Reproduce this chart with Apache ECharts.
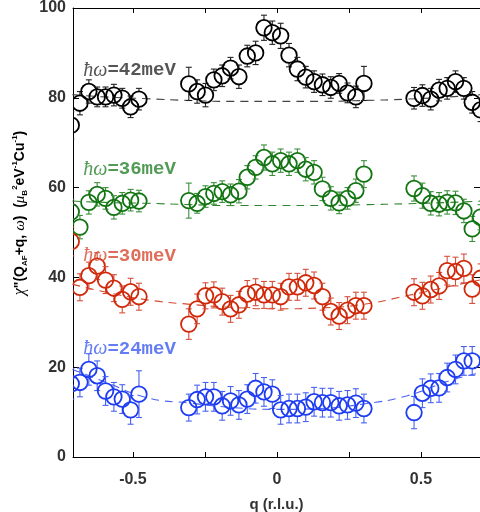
<!DOCTYPE html>
<html><head><meta charset="utf-8">
<script src="https://cdn.jsdelivr.net/npm/echarts@6/dist/echarts.min.js"></script>
<style>html,body{margin:0;padding:0;background:#fff}#c{width:480px;height:512px}</style>
</head><body><div id="c"></div>
<script>
// q positions (r.l.u.)
const q = [-0.714, -0.684, -0.653, -0.624, -0.595, -0.566, -0.537, -0.508, -0.479,
  -0.306, -0.277, -0.248, -0.219, -0.190, -0.161, -0.132, -0.103, -0.074, -0.045, -0.016,
  0.013, 0.042, 0.071, 0.100, 0.129, 0.158, 0.187, 0.216, 0.245, 0.274, 0.302,
  0.476, 0.505, 0.534, 0.563, 0.591, 0.620, 0.649, 0.678, 0.707];

const v42 = [73.9, 78.8, 81.4, 80.2, 80.2, 80.6, 79.9, 78.0, 79.7,
  83.1, 81.4, 80.6, 84.0, 84.9, 86.6, 84.7, 89.3, 90.0, 95.6, 94.5,
  93.8, 89.5, 86.4, 84.6, 83.6, 82.9, 82.3, 83.2, 81.1, 80.2, 83.2,
  79.9, 80.5, 79.7, 81.7, 82.1, 83.6, 82.1, 79.0, 77.3];
const e42 = [3.0, 2.6, 2.6, 2.2, 2.2, 2.4, 2.2, 2.4, 2.4,
  3.7, 2.6, 2.6, 2.4, 2.4, 2.4, 2.6, 2.4, 2.6, 2.8, 2.6,
  2.8, 2.6, 2.6, 2.4, 2.4, 2.4, 2.4, 2.2, 2.2, 2.4, 3.8,
  2.4, 2.4, 2.4, 2.4, 2.4, 2.4, 2.4, 2.4, 2.6];

const v36 = [54.6, 51.2, 56.7, 58.5, 57.6, 55.6, 56.5, 57.2, 57.0,
  57.1, 56.5, 58.0, 58.7, 59.1, 58.4, 59.2, 62.3, 64.5, 66.7, 65.3,
  66.0, 65.3, 66.0, 64.1, 63.4, 59.7, 57.6, 56.6, 57.6, 59.3, 63.0,
  59.8, 58.2, 56.5, 56.3, 56.7, 56.6, 54.8, 50.8, 53.4];
const e36 = [2.8, 2.6, 2.6, 2.6, 2.4, 2.6, 2.4, 2.4, 2.4,
  3.9, 2.2, 2.4, 2.4, 2.4, 2.4, 2.6, 2.6, 2.6, 2.8, 2.6,
  2.6, 2.6, 2.6, 2.6, 2.6, 2.6, 2.6, 2.4, 2.4, 2.6, 3.0,
  2.8, 2.8, 2.6, 2.6, 2.6, 2.6, 2.6, 2.8, 2.8];

const v30 = [48.0, 37.8, 40.4, 42.5, 39.4, 37.6, 35.1, 36.8, 35.7,
  29.6, 33.0, 35.9, 36.1, 34.6, 33.0, 33.9, 36.3, 36.7, 36.1, 36.1,
  35.7, 37.9, 37.9, 38.8, 38.2, 35.7, 32.4, 31.4, 32.7, 33.7, 33.7,
  36.7, 35.9, 37.3, 38.1, 41.5, 41.3, 42.0, 37.4, 39.8];
const e30 = [3.2, 3.0, 3.0, 3.0, 3.0, 3.0, 3.0, 3.0, 3.0,
  3.4, 3.3, 2.9, 2.9, 3.0, 3.0, 3.0, 3.0, 3.0, 3.0, 3.0,
  3.0, 3.0, 3.0, 3.0, 3.0, 3.0, 3.0, 3.0, 3.0, 3.0, 3.0,
  3.0, 3.0, 3.0, 3.0, 3.2, 3.2, 3.2, 3.2, 3.2];

const v24 = [16.3, 16.6, 19.5, 18.1, 14.7, 13.4, 12.9, 10.5, 14.0,
  11.0, 12.8, 13.4, 13.4, 11.4, 12.5, 11.6, 12.9, 15.3, 14.5, 14.0,
  10.5, 10.8, 10.8, 11.1, 12.3, 12.1, 12.1, 11.4, 11.6, 12.0, 10.8,
  9.9, 14.2, 15.3, 15.4, 17.7, 19.5, 21.4, 21.4, null];
const e24 = [3.4, 3.2, 3.5, 3.3, 3.2, 3.2, 3.2, 3.2, 5.2,
  3.0, 3.2, 3.2, 3.2, 3.2, 3.2, 3.2, 3.2, 3.3, 3.2, 3.2,
  3.2, 3.2, 3.2, 3.2, 3.2, 3.2, 3.2, 3.2, 3.2, 3.2, 3.2,
  3.6, 3.2, 3.2, 3.2, 3.2, 3.2, 3.2, 3.2, 3.2];

// background fits (dashed)
const qFit = [-0.71, -0.6, -0.45, -0.3, -0.15, 0, 0.15, 0.3, 0.45, 0.6, 0.71];
const fit42 = [80.7, 80.2, 79.8, 79.4, 79.2, 79.2, 79.2, 79.4, 79.7, 80.2, 80.7];
const fit36 = [57.0, 56.7, 56.5, 56.2, 56.0, 56.0, 56.0, 56.2, 56.4, 56.7, 57.0];
const fit30 = [38.5, 36.8, 35.0, 34.0, 33.3, 33.0, 33.2, 34.0, 35.9, 38.0, 39.5];
const fit24 = [19.5, 16.8, 13.2, 12.0, 11.0, 10.6, 10.8, 11.8, 13.6, 17.0, 18.8];

const labels = ['=42meV', '=36meV', '=30meV', '=24meV'];
const labelPos = [[-0.674, 86.1], [-0.674, 64.0], [-0.674, 44.8], [-0.674, 24.1]];

const xTicks = [-0.5, -0.25, 0, 0.25, 0.5];
const xLabels = [-0.5, 0, 0.5];

const sets = [
  {v: v42, e: e42, fit: fit42, color: '#000000', bar: '#222222', dash: '#444444', text: '#2a2a2a'},
  {v: v36, e: e36, fit: fit36, color: '#127512', bar: '#3d8f3d', dash: '#2f852f', text: '#27822a'},
  {v: v30, e: e30, fit: fit30, color: '#d0290a', bar: '#d5503c', dash: '#d24a30', text: '#d64a30'},
  {v: v24, e: e24, fit: fit24, color: '#1e3cf2', bar: '#4862f2', dash: '#4862f2', text: '#3d5cf0'}
];

const R = 7.8;
function makeRender(color, barColor) {
  return function (params, api) {
    const x = api.value(0), y = api.value(1), e = api.value(2);
    const c = api.coord([x, y]);
    const t = api.coord([x, y + e]);
    const b = api.coord([x, y - e]);
    const cw = 3;
    const bs = {stroke: barColor, lineWidth: 1.1};
    const ch = [];
    if (t[1] < c[1] - R) ch.push({type: 'line', shape: {x1: c[0], y1: t[1], x2: c[0], y2: c[1] - R}, style: bs});
    if (b[1] > c[1] + R) ch.push({type: 'line', shape: {x1: c[0], y1: c[1] + R, x2: c[0], y2: b[1]}, style: bs});
    ch.push({type: 'line', shape: {x1: c[0] - cw, y1: t[1], x2: c[0] + cw, y2: t[1]}, style: bs});
    ch.push({type: 'line', shape: {x1: c[0] - cw, y1: b[1], x2: c[0] + cw, y2: b[1]}, style: bs});
    ch.push({type: 'circle', shape: {cx: c[0], cy: c[1], r: R}, style: {fill: 'none', stroke: color, lineWidth: 1.8}});
    return {type: 'group', children: ch};
  };
}

const series = [];
sets.forEach((s, k) => {
  series.push({
    type: 'line', smooth: true, symbol: 'none', silent: true, z: 1,
    data: qFit.map((x, i) => [x, s.fit[i]]),
    lineStyle: {color: s.dash, width: 1.1, type: [8, 6]}
  });
  series.push({
    type: 'custom', clip: true, z: 3,
    renderItem: makeRender(s.color, s.bar),
    encode: {x: 0, y: 1},
    data: q.map((x, i) => [x, s.v[i], s.e[i]]).filter(d => d[1] !== null)
  });
  series.push({
    type: 'scatter', symbolSize: 1, silent: true, z: 4,
    itemStyle: {color: 'rgba(0,0,0,0)'},
    data: [labelPos[k]],
    label: {
      show: true, position: 'right', distance: 0,
      formatter: '{h|ħω}{m|' + labels[k] + '}',
      rich: {
        h: {fontFamily: 'Liberation Serif', fontStyle: 'italic', fontSize: 20, color: s.text},
        m: {fontFamily: 'Liberation Mono', fontWeight: 'bold', fontSize: 19, color: s.text}
      }
    }
  });
});

const axisFont = {fontFamily: 'Liberation Sans', fontWeight: 'bold', fontSize: 16, color: '#333333'};
const chart = echarts.init(document.getElementById('c'));
chart.setOption({
  animation: false,
  backgroundColor: '#ffffff',
  grid: {left: 73, right: 0, top: 8, bottom: 55, containLabel: false, outerBoundsMode: 'none'},
  xAxis: [{
    type: 'value', min: -0.708, max: 0.705, position: 'bottom',
    axisLine: {show: true, onZero: false, lineStyle: {color: '#000', width: 1}},
    axisTick: {show: true, inside: true, length: 5, customValues: xTicks, lineStyle: {color: '#000'}},
    axisLabel: Object.assign({customValues: xLabels, margin: 15, formatter: v => v === 0 ? '0' : String(v)}, axisFont),
    splitLine: {show: false},
    name: 'q (r.l.u.)', nameLocation: 'middle', nameGap: 40,
    nameTextStyle: {fontFamily: 'Liberation Sans', fontWeight: 'bold', fontSize: 15, color: '#333333'}
  }, {
    type: 'value', min: -0.708, max: 0.705, position: 'top',
    axisLine: {show: true, onZero: false, lineStyle: {color: '#000', width: 1}},
    axisTick: {show: true, inside: true, length: 5, customValues: xTicks, lineStyle: {color: '#000'}},
    axisLabel: {show: false}, splitLine: {show: false}
  }],
  yAxis: [{
    type: 'value', min: 0, max: 100, interval: 20, position: 'left',
    axisLine: {show: true, onZero: false, lineStyle: {color: '#000', width: 1}},
    axisTick: {show: true, inside: true, length: 6, lineStyle: {color: '#000'}},
    axisLabel: Object.assign({margin: 7}, axisFont),
    splitLine: {show: false}
  }, {
    type: 'value', min: 0, max: 100, interval: 20, position: 'right',
    axisLine: {show: true, onZero: false, lineStyle: {color: '#000', width: 1}},
    axisTick: {show: true, inside: true, length: 6, lineStyle: {color: '#000'}},
    axisLabel: {show: false}, splitLine: {show: false}
  }],
  graphic: [{
    type: 'text', x: 20, y: 213, rotation: Math.PI / 2,
    style: {
      text: '{chi|χ}{b|"(Q}{sub|AF}{b|+q, }{w|ω}{b|)  (}{w|μ}{sub|B}{sup|2}{b|eV}{sup|-1}{b|Cu}{sup|-1}{b|)}',
      align: 'center', verticalAlign: 'middle',
      rich: {
        chi: {fontFamily: 'Liberation Serif', fontStyle: 'italic', fontSize: 16, color: '#222', lineHeight: 18},
        w: {fontFamily: 'Liberation Serif', fontStyle: 'italic', fontSize: 15, color: '#222', lineHeight: 18},
        b: {fontFamily: 'Liberation Sans', fontWeight: 'bold', fontSize: 14, color: '#222', lineHeight: 18},
        sub: {fontFamily: 'Liberation Sans', fontWeight: 'bold', fontSize: 8, color: '#222', lineHeight: 9, verticalAlign: 'bottom'},
        sup: {fontFamily: 'Liberation Sans', fontWeight: 'bold', fontSize: 8, color: '#222', lineHeight: 9, verticalAlign: 'top'}
      }
    }
  }],
  series: series
});
</script>
</body></html>
